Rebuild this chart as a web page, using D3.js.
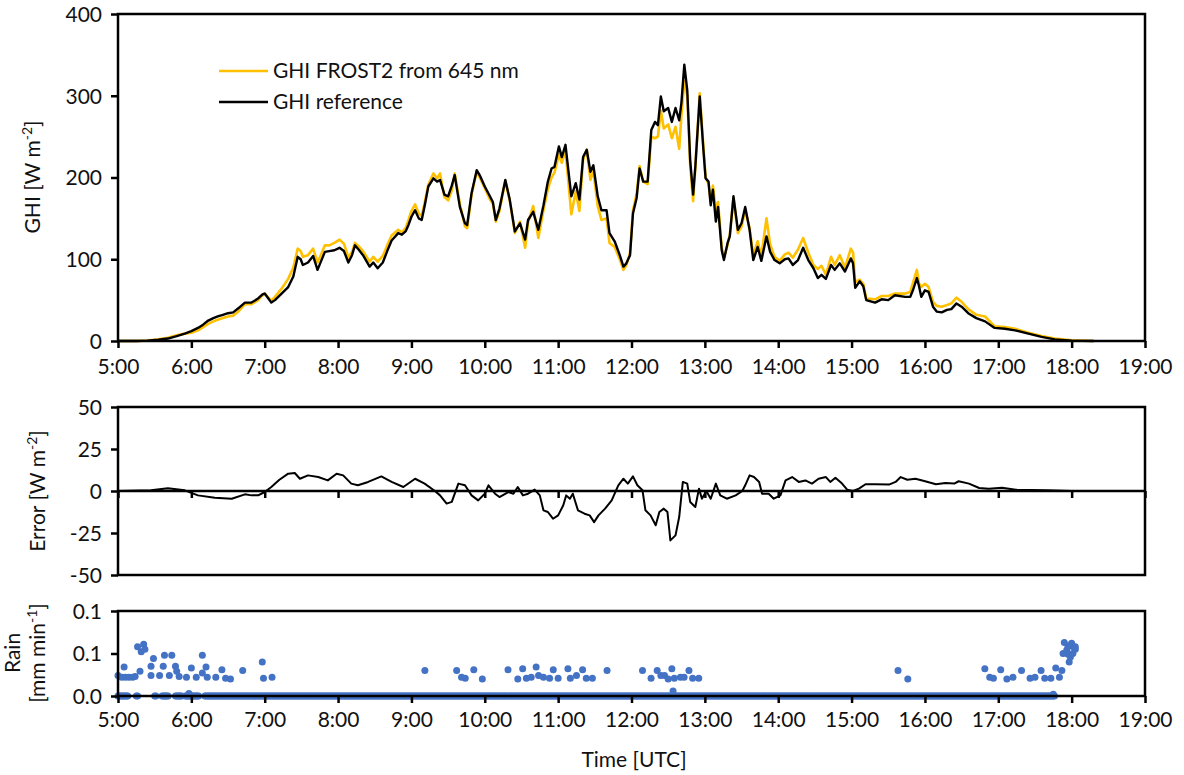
<!DOCTYPE html>
<html lang="en">
<head>
  <meta charset="UTF-8" />
  <title>GHI FROST2 vs reference</title>
  <script src="https://d3js.org/d3.v7.min.js"></script>
  <style>
    body { margin: 0; background: #fff; }
    svg text { font-family: Lato, "Open Sans", sans-serif; fill: #111; }
  </style>
</head>
<body>
  <svg id="chart" width="1184" height="775"></svg>

  <script>
    // ---- data ----
    const timeTicks = ["5:00","6:00","7:00","8:00","9:00","10:00","11:00","12:00",
                       "13:00","14:00","15:00","16:00","17:00","18:00","19:00"];
    const ghiTicks = [0, 100, 200, 300, 400];
    const errTicks = [50, 25, 0, -25, -50];
    const rainTicks = [0, 0.05, 0.1];
    const rainTickLabels = ["0.0", "0.1", "0.1"];

    // time in decimal hours (UTC)
    const ghiTime = [5.00,5.25,5.40,5.55,5.68,5.80,5.91,6.00,6.09,6.16,6.23,6.30,6.36,6.43,6.50,6.57,6.64,6.73,6.82,6.91,
      6.97,7.00,7.05,7.09,7.14,7.23,7.32,7.39,7.45,7.49,7.52,7.59,7.66,7.72,7.77,7.82,7.88,7.95,8.02,8.08,
      8.14,8.19,8.23,8.28,8.34,8.43,8.48,8.54,8.61,8.67,8.73,8.82,8.87,8.92,8.96,9.00,9.05,9.10,9.14,9.18,
      9.23,9.30,9.35,9.39,9.45,9.50,9.55,9.59,9.66,9.73,9.76,9.82,9.89,9.93,10.00,10.07,10.11,10.15,10.20,10.28,
      10.34,10.41,10.48,10.55,10.59,10.66,10.73,10.80,10.86,10.91,10.95,11.01,11.05,11.10,11.18,11.24,11.29,11.34,11.39,11.44,
      11.48,11.54,11.59,11.66,11.70,11.77,11.84,11.89,11.93,11.98,12.02,12.07,12.11,12.16,12.22,12.27,12.32,12.36,12.40,12.44,
      12.50,12.55,12.60,12.65,12.68,12.72,12.76,12.80,12.84,12.87,12.93,12.98,13.01,13.05,13.08,13.11,13.15,13.18,13.23,13.26,
      13.31,13.34,13.39,13.45,13.50,13.55,13.61,13.66,13.72,13.77,13.84,13.89,13.95,14.02,14.09,14.14,14.20,14.27,14.34,14.41,
      14.48,14.54,14.59,14.65,14.72,14.77,14.84,14.91,14.99,15.02,15.05,15.11,15.16,15.20,15.32,15.41,15.50,15.59,15.73,15.80,
      15.84,15.89,15.92,15.95,16.00,16.05,16.11,16.16,16.23,16.30,16.36,16.43,16.50,16.59,16.70,16.82,16.95,17.09,17.23,17.41,
      17.59,17.77,18.00,18.30];

    const ghiRef = [0,0,0.5,1.5,3,6,9,12,16,20,25,28,30,32,34,35,40,47,47,52,
      57,58,52,47,50,58,66,79,103,100,93,96,104,87,98,109,110,111,114,110,
      96,105,117,112,105,91,96,89,96,110,123,132,130,134,142,152,160,150,148,165,
      189,199,195,197,179,177,190,203,164,144,142,181,209,203,189,177,170,148,162,197,
      173,134,144,124,148,158,136,166,195,211,213,238,225,240,177,193,173,225,234,207,
      215,177,160,160,132,122,105,91,95,105,156,175,211,195,195,258,268,264,299,281,
      285,268,285,270,291,338,307,221,179,213,299,234,199,195,166,185,146,164,111,99,
      120,128,177,136,144,164,136,99,115,98,128,109,99,95,100,101,93,99,114,99,
      89,77,81,76,93,87,95,85,101,95,65,73,67,50,47,51,50,56,54,54,
      63,77,67,54,62,60,42,36,35,38,39,46,42,34,28,24,16,15,13,9,
      5,2,0.5,0];

    const ghiFrost = [0,0,0.5,2,4,7,9,10,13,17,21,24,26,28,30,31,36,45,45,50,
      56,58,53,49,54,64,76,90,113,110,103,105,113,96,106,117,117,120,124,119,
      102,109,120,116,110,97,103,97,104,117,129,136,133,138,148,159,167,156,153,169,
      191,205,199,205,176,172,184,205,168,140,138,179,208,200,187,173,168,146,159,196,
      172,132,146,114,145,165,126,160,186,200,206,228,218,233,155,183,159,222,234,197,
      208,165,148,150,120,115,100,87,93,108,160,180,214,195,192,250,248,250,282,260,
      265,248,262,235,275,318,300,215,171,212,303,238,200,192,170,190,160,170,115,102,
      118,130,175,132,140,160,138,105,122,104,150,118,103,98,106,108,102,112,126,108,
      93,88,92,81,103,93,105,90,113,108,72,75,70,52,51,55,55,58,58,60,
      72,87,70,66,70,66,48,43,42,44,46,53,48,39,32,30,18,17,15,10,
      6,3,1,0];

    // error = FROST2 - reference
    const errTime = [5.00,5.45,5.68,5.91,6.09,6.32,6.55,6.73,6.82,6.91,7.00,7.09,7.20,7.32,7.41,7.48,7.59,7.73,7.86,7.98,
      8.07,8.18,8.27,8.41,8.59,8.73,8.89,9.05,9.18,9.32,9.39,9.48,9.55,9.64,9.73,9.82,9.91,10.00,10.05,10.14,
      10.20,10.32,10.39,10.45,10.52,10.59,10.68,10.75,10.80,10.86,10.93,11.00,11.07,11.11,11.16,11.20,11.27,11.36,11.43,11.49,
      11.55,11.64,11.73,11.82,11.89,11.95,12.02,12.08,12.15,12.19,12.26,12.33,12.38,12.44,12.49,12.53,12.60,12.65,12.70,12.76,
      12.80,12.87,12.92,12.96,13.02,13.08,13.15,13.21,13.30,13.42,13.51,13.55,13.61,13.67,13.74,13.78,13.87,13.94,14.03,14.10,
      14.19,14.28,14.37,14.46,14.55,14.65,14.71,14.78,14.87,14.94,15.02,15.10,15.19,15.33,15.51,15.60,15.67,15.76,15.87,15.99,
      16.15,16.28,16.40,16.46,16.60,16.74,16.87,17.05,17.24,17.65,18.00,18.30];
    const errValue = [0,0.5,1.6,0.4,-2.6,-4,-4.6,-2,-2.6,-2.6,-0.6,2.4,6.7,10.3,10.7,7.3,9.3,8.3,6.3,10.3,
      9.3,4.4,3.4,5.4,8.7,5.4,2.4,7.3,4.4,0,-2.6,-7.5,-6.5,4.4,3.4,-2.6,-5.6,-1.6,3.4,-1.6,
      -3.6,-0.6,-1.6,2.4,-2.6,-1.6,0.8,-2.6,-11.5,-12.5,-16.5,-14.5,-8.5,-2.6,-4.6,-1.6,-11.5,-13.5,-14.5,-18.5,
      -14.5,-10.5,-5.6,3.4,7.3,4.4,8.7,3.4,0.4,-11.5,-14.5,-20.4,-12.5,-10.5,-12.5,-29.4,-26.4,-15.5,5.4,4.4,
      -6.5,-9.5,1.4,-4.6,0,-4.6,4.4,-2.6,-4.6,-2.6,0,3.4,9.3,8.3,5.4,-1.6,-1.6,-4.6,-2.6,6.3,
      8.3,5.4,6.3,4.4,7.3,8.3,5.4,7.9,4.4,0.8,0,1.4,4,4,3.8,5.4,8.3,6.7,7.3,6,
      4,4.8,4.4,5.8,4.4,1.8,1.4,2,0.8,0.4,0,0];

    // rain: minutes with measurable rain, and spans of dry minutes (0.0)
    const rainWetTime = ["5:00","5:03","5:05","5:06","5:09","5:12","5:14","5:16","5:18","5:19","5:21","5:22","5:27","5:27",
      "5:29","5:34","5:37","5:38","5:42","5:44","5:47","5:48","5:50","5:56","5:58","6:00","6:04","6:09","6:09","6:12","6:13",
      "6:20","6:25","6:28","6:32","6:42","6:58","6:59","7:06","9:11","9:37","9:41","9:44","9:51","9:58","10:19","10:27",
      "10:31","10:34","10:38","10:42","10:44","10:48","10:53","10:56","11:00","11:08","11:10","11:15","11:20","11:23","11:28",
      "11:40","12:09","12:16","12:21","12:24","12:27","12:30","12:33","12:34","12:35","12:40","12:43","12:47","12:50","12:55",
      "15:38","15:46","16:49","16:53","16:56","17:02","17:07","17:12","17:19","17:26","17:30","17:35","17:38","17:43","17:45",
      "17:47","17:50","17:52","17:53","17:54","17:56","17:57","17:57","17:58","17:59","17:59","18:00","18:01","18:02","18:03","18:03"];
    const rainWetValue = [0.024,0.022,0.034,0.022,0.022,0.022,0.023,0.058,0.029,0.052,0.061,0.055,0.024,0.035,
      0.044,0.024,0.035,0.048,0.024,0.048,0.035,0.029,0.023,0.022,0.003,0.033,0.022,0.048,0.027,0.034,0.022,
      0.022,0.031,0.021,0.020,0.030,0.040,0.021,0.022,0.030,0.030,0.022,0.021,0.031,0.020,0.031,0.020,
      0.032,0.021,0.022,0.034,0.024,0.022,0.021,0.031,0.021,0.032,0.021,0.024,0.031,0.021,0.021,
      0.030,0.030,0.021,0.030,0.024,0.024,0.020,0.032,0.006,0.021,0.022,0.022,0.030,0.021,0.021,
      0.030,0.020,0.032,0.022,0.021,0.031,0.020,0.022,0.030,0.021,0.022,0.030,0.021,0.021,0.002,
      0.033,0.022,0.030,0.050,0.063,0.054,0.058,0.049,0.040,0.060,0.046,0.062,0.050,0.057,0.055,0.058];
    const rainDrySpans = [["5:00","5:08"],["5:15","5:16"],["5:30","5:31"],["5:36","5:41"],["5:47","5:52"],
      ["5:55","6:06"],["6:11","17:46"]];

    // ---- helpers ----
    const hm = s => { const [h, m] = s.split(":").map(Number); return h + m / 60; };

    // expand dry spans to one-minute samples at 0 mm/min
    const rainPoints = [];
    rainDrySpans.forEach(([a, b]) => {
      for (let m = Math.round(hm(a) * 60); m <= Math.round(hm(b) * 60); m++) rainPoints.push({ t: m / 60, v: 0 });
    });
    rainWetTime.forEach((s, i) => rainPoints.push({ t: hm(s), v: rainWetValue[i] }));

    const ghiData = ghiTime.map((t, i) => ({ t, ref: ghiRef[i], frost: ghiFrost[i] }));
    const errData = errTime.map((t, i) => ({ t, v: errValue[i] }));

    // ---- layout ----
    const svg = d3.select("#chart");
    const left = 118, right = 1145;
    const fs = 21;
    const axisW = 2.5;

    const x = d3.scaleLinear().domain([5, 19]).range([left, right]);
    const tickVals = timeTicks.map(hm);

    const yG = d3.scaleLinear().domain([0, 400]).range([341, 14]);
    const yE = d3.scaleLinear().domain([-50, 50]).range([575, 407]);
    const yR = d3.scaleLinear().domain([0, 0.1]).range([696, 611]);

    function frame(y0, y1) {
      svg.append("rect")
        .attr("x", left).attr("y", y0)
        .attr("width", right - left).attr("height", y1 - y0)
        .attr("fill", "none").attr("stroke", "#000").attr("stroke-width", axisW);
    }

    function styleAxis(g) {
      g.select(".domain").remove();
      g.selectAll(".tick line").attr("stroke", "#000").attr("stroke-width", axisW);
      g.selectAll(".tick text").attr("font-size", fs).attr("fill", "#111")
        .style("font-family", "Lato, 'Open Sans', sans-serif");
    }

    function xAxis(yPos, labels, pad) {
      const g = svg.append("g")
        .attr("transform", `translate(0,${yPos})`)
        .call(d3.axisBottom(x).tickValues(tickVals).tickSize(7).tickPadding(pad)
          .tickFormat((d, i) => labels ? timeTicks[i] : ""));
      styleAxis(g);
      return g;
    }

    function yAxis(scale, vals, fmt) {
      const g = svg.append("g")
        .attr("transform", `translate(${left},0)`)
        .call(d3.axisLeft(scale).tickValues(vals).tickSize(7).tickPadding(9).tickFormat(fmt));
      styleAxis(g);
      g.selectAll(".tick text").attr("dy", "0.35em");
      return g;
    }

    function yTitle(cx, cy, parts) {
      const t = svg.append("text")
        .attr("transform", `translate(${cx},${cy}) rotate(-90)`)
        .attr("text-anchor", "middle")
        .attr("font-size", fs);
      parts.forEach(p => {
        const s = t.append("tspan").text(p.text);
        if (p.sup) s.attr("font-size", 14).attr("dy", -8);
        if (p.after) s.attr("dy", 8);
      });
      return t;
    }

    // ---- panel 1: GHI ----
    const line = key => d3.line().x(d => x(d.t)).y(d => yG(d[key]));

    svg.append("path").datum(ghiData)
      .attr("fill", "none").attr("stroke", "#FFC000").attr("stroke-width", 2.6)
      .attr("stroke-linejoin", "round").attr("d", line("frost"));
    svg.append("path").datum(ghiData)
      .attr("fill", "none").attr("stroke", "#000").attr("stroke-width", 2.4)
      .attr("stroke-linejoin", "round").attr("d", line("ref"));

    frame(14, 341);
    xAxis(341, true, 11);
    yAxis(yG, ghiTicks, d => d);
    yTitle(40, 177, [{ text: "GHI [W m" }, { text: "-2", sup: true }, { text: "]", after: true }]);

    // legend
    const legend = [
      { label: "GHI FROST2 from 645 nm", color: "#FFC000", y: 71 },
      { label: "GHI reference", color: "#000", y: 102 }
    ];
    legend.forEach(l => {
      svg.append("line").attr("x1", 219).attr("x2", 268).attr("y1", l.y).attr("y2", l.y)
        .attr("stroke", l.color).attr("stroke-width", 2.6);
      svg.append("text").attr("x", 273).attr("y", l.y).attr("dy", "0.35em")
        .attr("font-size", fs).text(l.label);
    });

    // ---- panel 2: error ----
    svg.append("path").datum(errData)
      .attr("fill", "none").attr("stroke", "#000").attr("stroke-width", 2)
      .attr("stroke-linejoin", "round")
      .attr("d", d3.line().x(d => x(d.t)).y(d => yE(d.v)));

    frame(407, 575);
    svg.append("line").attr("x1", left).attr("x2", right)
      .attr("y1", yE(0)).attr("y2", yE(0)).attr("stroke", "#000").attr("stroke-width", axisW);
    xAxis(yE(0), false, 0);
    yAxis(yE, errTicks, d => d);
    yTitle(45, 491, [{ text: "Error [W m" }, { text: "-2", sup: true }, { text: "]", after: true }]);

    // ---- panel 3: rain ----
    svg.append("g").selectAll("circle")
      .data(rainPoints)
      .join("circle")
      .attr("cx", d => x(d.t))
      .attr("cy", d => yR(d.v))
      .attr("r", 3.5)
      .attr("fill", "#4472C4");

    frame(611, 696);
    xAxis(696, true, 9);
    yAxis(yR, rainTicks, (d, i) => rainTickLabels[i]);
    svg.append("text")
      .attr("transform", "translate(20,653) rotate(-90)")
      .attr("text-anchor", "middle").attr("font-size", fs).text("Rain");
    yTitle(45, 653, [{ text: "[mm min" }, { text: "-1", sup: true }, { text: "]", after: true }]);

    svg.append("text")
      .attr("x", 634).attr("y", 760).attr("dy", "0.35em")
      .attr("text-anchor", "middle").attr("font-size", fs).text("Time [UTC]");
  </script>
</body>
</html>
